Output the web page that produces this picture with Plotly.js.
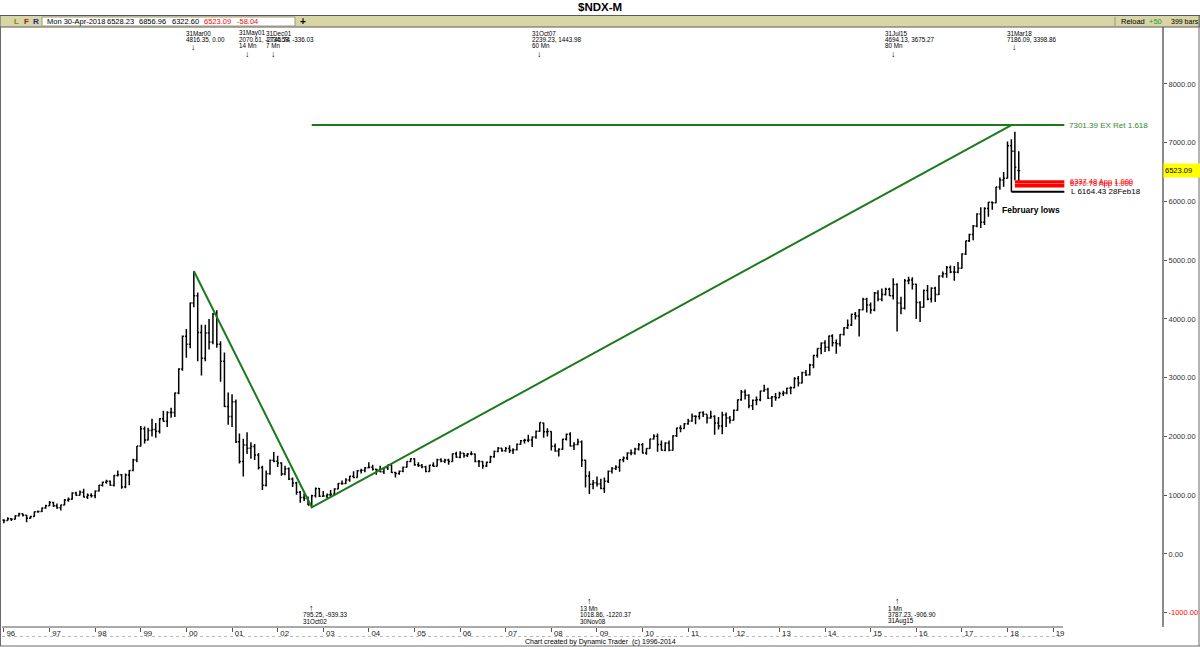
<!DOCTYPE html>
<html><head><meta charset="utf-8">
<script src="https://cdn.plot.ly/plotly-3.0.1.min.js"></script>
<style>html,body{margin:0;padding:0;background:#fff;overflow:hidden}#chart{width:1200px;height:647px}</style>
</head><body><div id="chart"></div>
<script>
// ---------------- DATA ----------------
const months = [
"1996-01","1996-02","1996-03","1996-04","1996-05","1996-06","1996-07","1996-08","1996-09","1996-10","1996-11","1996-12",
"1997-01","1997-02","1997-03","1997-04","1997-05","1997-06","1997-07","1997-08","1997-09","1997-10","1997-11","1997-12",
"1998-01","1998-02","1998-03","1998-04","1998-05","1998-06","1998-07","1998-08","1998-09","1998-10","1998-11","1998-12",
"1999-01","1999-02","1999-03","1999-04","1999-05","1999-06","1999-07","1999-08","1999-09","1999-10","1999-11","1999-12",
"2000-01","2000-02","2000-03","2000-04","2000-05","2000-06","2000-07","2000-08","2000-09","2000-10","2000-11","2000-12",
"2001-01","2001-02","2001-03","2001-04","2001-05","2001-06","2001-07","2001-08","2001-09","2001-10","2001-11","2001-12",
"2002-01","2002-02","2002-03","2002-04","2002-05","2002-06","2002-07","2002-08","2002-09","2002-10","2002-11","2002-12",
"2003-01","2003-02","2003-03","2003-04","2003-05","2003-06","2003-07","2003-08","2003-09","2003-10","2003-11","2003-12",
"2004-01","2004-02","2004-03","2004-04","2004-05","2004-06","2004-07","2004-08","2004-09","2004-10","2004-11","2004-12",
"2005-01","2005-02","2005-03","2005-04","2005-05","2005-06","2005-07","2005-08","2005-09","2005-10","2005-11","2005-12",
"2006-01","2006-02","2006-03","2006-04","2006-05","2006-06","2006-07","2006-08","2006-09","2006-10","2006-11","2006-12",
"2007-01","2007-02","2007-03","2007-04","2007-05","2007-06","2007-07","2007-08","2007-09","2007-10","2007-11","2007-12",
"2008-01","2008-02","2008-03","2008-04","2008-05","2008-06","2008-07","2008-08","2008-09","2008-10","2008-11","2008-12",
"2009-01","2009-02","2009-03","2009-04","2009-05","2009-06","2009-07","2009-08","2009-09","2009-10","2009-11","2009-12",
"2010-01","2010-02","2010-03","2010-04","2010-05","2010-06","2010-07","2010-08","2010-09","2010-10","2010-11","2010-12",
"2011-01","2011-02","2011-03","2011-04","2011-05","2011-06","2011-07","2011-08","2011-09","2011-10","2011-11","2011-12",
"2012-01","2012-02","2012-03","2012-04","2012-05","2012-06","2012-07","2012-08","2012-09","2012-10","2012-11","2012-12",
"2013-01","2013-02","2013-03","2013-04","2013-05","2013-06","2013-07","2013-08","2013-09","2013-10","2013-11","2013-12",
"2014-01","2014-02","2014-03","2014-04","2014-05","2014-06","2014-07","2014-08","2014-09","2014-10","2014-11","2014-12",
"2015-01","2015-02","2015-03","2015-04","2015-05","2015-06","2015-07","2015-08","2015-09","2015-10","2015-11","2015-12",
"2016-01","2016-02","2016-03","2016-04","2016-05","2016-06","2016-07","2016-08","2016-09","2016-10","2016-11","2016-12",
"2017-01","2017-02","2017-03","2017-04","2017-05","2017-06","2017-07","2017-08","2017-09","2017-10","2017-11","2017-12",
"2018-01","2018-02","2018-03","2018-04"];

const openPx = [
577,570,598,590,652,683,660,610,640,718,722,782,
821,878,820,785,832,920,930,1040,1000,1050,970,1000,
990,1070,1170,1220,1240,1170,1337,1350,1140,1345,1420,1600,
1836,2130,1940,2100,2120,2090,2300,2260,2410,2410,2740,3150,
3708,3570,4270,4397,3770,3330,3760,3610,4080,3570,3280,2510,
2341,2590,1910,1573,1855,1800,1830,1683,1470,1169,1365,1596,
1577,1550,1360,1452,1278,1210,1051,963,943,832,989,1116,
984,985,1010,1018,1106,1199,1201,1259,1321,1303,1416,1424,
1468,1475,1442,1438,1401,1467,1517,1387,1368,1406,1478,1574,
1621,1519,1505,1483,1404,1511,1493,1605,1579,1601,1575,1705,
1645,1713,1676,1703,1703,1574,1575,1496,1561,1655,1744,1799,
1757,1796,1762,1772,1869,1929,1934,1941,1993,2091,2228,2079,
2085,1832,1753,1781,1951,2037,1837,1865,1906,1596,1329,1185,
1212,1190,1116,1237,1407,1454,1477,1606,1632,1720,1718,1788,
1860,1719,1795,1957,2004,1865,1765,1889,1765,2011,2143,2134,
2218,2263,2343,2338,2409,2378,2316,2338,2231,2179,2366,2314,
2278,2448,2624,2755,2700,2522,2616,2626,2772,2799,2650,2677,
2661,2731,2738,2819,2828,2987,2910,3087,3052,3218,3378,3498,
3592,3519,3711,3596,3580,3736,3850,3896,4082,4050,4158,4337,
4236,4152,4442,4334,4415,4508,4397,4589,4274,4181,4649,4664,
4593,4280,4201,4483,4341,4523,4418,4731,4771,4875,4801,4795,
4864,5107,5330,5436,5584,5788,5647,5880,5988,5979,6248,6367,
6397,6950,6854,6528.23];

const highPx = [
590,625,610,660,700,690,665,650,725,740,790,840,
900,890,860,840,935,960,1050,1060,1080,1110,1030,1035,
1080,1175,1230,1265,1250,1340,1420,1360,1370,1430,1620,1840,
2180,2170,2150,2300,2230,2310,2440,2430,2490,2750,3160,3720,
3830,4280,4816.35,4450,3900,3900,4000,4100,4150,3620,3430,2750,
2720,2630,2050,1960,2070.61,1900,1870,1720,1500,1420,1610,1734.58,
1670,1560,1500,1470,1300,1230,1070,1030,980,1010,1130,1125,
1070,1030,1090,1120,1210,1250,1290,1330,1410,1430,1450,1480,
1560,1520,1450,1500,1480,1520,1520,1400,1420,1490,1580,1630,
1630,1560,1530,1500,1520,1560,1620,1630,1620,1620,1710,1740,
1750,1720,1720,1750,1710,1600,1580,1570,1670,1760,1820,1810,
1820,1850,1800,1880,1940,1960,2030,2000,2100,2239.23,2232,2140,
2090,1880,1800,1960,2050,2070,1900,1960,1930,1610,1410,1260,
1320,1280,1300,1420,1480,1510,1610,1660,1730,1780,1810,1890,
1890,1800,1960,2040,2050,1930,1900,1930,2020,2150,2190,2230,
2300,2390,2360,2420,2430,2380,2440,2360,2330,2420,2410,2350,
2460,2630,2790,2800,2720,2630,2680,2780,2880,2830,2690,2740,
2760,2780,2830,2850,3010,3030,3100,3130,3240,3390,3500,3600,
3640,3720,3740,3650,3740,3860,3990,4090,4120,4170,4360,4360,
4280,4460,4490,4520,4530,4530,4694.13,4610,4380,4680,4720,4710,
4600,4300,4500,4580,4540,4550,4740,4810,4900,4910,4900,4970,
5120,5330,5450,5600,5800,5900,5900,5990,6000,6250,6410,6500,
7022,7060,7186.09,6856.96];

const lowPx = [
525,565,560,585,640,640,540,600,635,700,715,770,
815,800,770,740,828,890,925,990,995,960,935,960,
950,1065,1150,1195,1160,1150,1320,1110,1120,1170,1410,1560,
1830,1880,1930,2000,1980,2050,2250,2160,2320,2330,2720,3120,
3340,3500,4200,3280,3040,3280,3480,3570,3510,2930,2500,2200,
2160,1890,1540,1320,1700,1620,1600,1440,1090,1150,1350,1560,
1480,1330,1340,1260,1140,1010,870,900,830,795.25,960,970,
980,950,960,1000,1100,1180,1190,1230,1290,1300,1370,1390,
1460,1420,1350,1390,1360,1430,1380,1300,1350,1390,1470,1560,
1500,1480,1460,1390,1400,1480,1490,1560,1550,1520,1570,1640,
1630,1640,1650,1680,1560,1480,1450,1480,1550,1640,1730,1740,
1740,1720,1700,1760,1860,1880,1900,1820,1960,2080,1980,2000,
1760,1740,1660,1770,1930,1830,1770,1850,1480,1130,1018.86,1100,
1150,1100,1040,1210,1370,1430,1400,1560,1600,1680,1690,1760,
1710,1690,1790,1950,1740,1760,1750,1750,1760,1990,2070,2130,
2200,2250,2210,2290,2330,2220,2300,2030,2120,2040,2160,2220,
2270,2440,2610,2630,2480,2450,2530,2600,2760,2640,2500,2610,
2660,2690,2720,2720,2820,2850,2900,3030,3040,3160,3340,3400,
3440,3450,3530,3410,3530,3720,3830,3880,3990,3700,4150,4110,
4090,4130,4300,4300,4400,4390,4330,3787.23,4080,4160,4590,4500,
4000,3950,4190,4320,4280,4290,4410,4700,4700,4780,4650,4780,
4860,5090,5310,5340,5560,5550,5600,5740,5860,5970,6200,6250,
6390,6164.43,6360,6322.60];

const closePx = [
570,598,590,652,683,660,610,640,718,722,782,821,
878,820,785,832,920,930,1040,1000,1050,970,1000,990,
1070,1170,1220,1240,1170,1337,1350,1140,1345,1420,1600,1836,
2130,1940,2100,2120,2090,2300,2260,2410,2410,2740,3150,3708,
3570,4270,4397,3770,3330,3760,3610,4080,3570,3280,2510,2341,
2590,1910,1573,1855,1800,1830,1683,1470,1169,1365,1596,1577,
1550,1360,1452,1278,1210,1051,963,943,832,989,1116,984,
985,1010,1018,1106,1199,1201,1259,1321,1303,1416,1424,1468,
1475,1442,1438,1401,1467,1517,1387,1368,1406,1478,1574,1621,
1519,1505,1483,1404,1511,1493,1605,1579,1601,1575,1705,1645,
1713,1676,1703,1703,1574,1575,1496,1561,1655,1744,1799,1757,
1796,1762,1772,1869,1929,1934,1941,1993,2091,2239,2079,2085,
1832,1753,1781,1951,2037,1837,1865,1906,1596,1329,1185,1212,
1190,1116,1237,1407,1454,1477,1606,1632,1720,1718,1788,1860,
1719,1795,1957,2004,1865,1765,1889,1765,2011,2143,2134,2218,
2263,2343,2338,2409,2378,2316,2338,2231,2179,2366,2314,2278,
2448,2624,2755,2700,2522,2616,2626,2772,2799,2650,2677,2661,
2731,2738,2819,2828,2987,2910,3087,3052,3218,3378,3498,3592,
3519,3711,3596,3580,3736,3850,3896,4082,4050,4158,4337,4236,
4152,4442,4334,4415,4508,4397,4589,4274,4181,4649,4664,4593,
4280,4201,4483,4341,4523,4418,4731,4771,4875,4801,4795,4864,
5107,5330,5436,5584,5788,5647,5880,5988,5979,6248,6367,6397,
6950,6854,6581,6523.09];

// x tick labels (year starts)
const yearTicks = ["1996-01-01","1997-01-01","1998-01-01","1999-01-01","2000-01-01","2001-01-01","2002-01-01","2003-01-01","2004-01-01","2005-01-01","2006-01-01","2007-01-01","2008-01-01","2009-01-01","2010-01-01","2011-01-01","2012-01-01","2013-01-01","2014-01-01","2015-01-01","2016-01-01","2017-01-01","2018-01-01","2019-01-01"];
const yearLabels = ["96","97","98","99","00","01","02","03","04","05","06","07","08","09","10","11","12","13","14","15","16","17","18","19"];
// y tick labels
const priceTicks = [-1000,0,1000,2000,3000,4000,5000,6000,7000,8000];
const priceLabels = ['<span style="color:#ff0000">-1000.00</span>',"0.00","1000.00","2000.00","3000.00","4000.00","5000.00","6000.00","7000.00","8000.00"];

// swing pivots (green lines)
const swingDates = ["2000-03-01","2002-10-01","2018-02-01"];
const swingValues = [4816.35, 795.25, 7301.39];
const targetStart = "2002-10-01", levelsEnd = "2019-04-01";
const targetValue = 7301.39, targetLabel = "7301.39 EX Ret 1.618";
// projection zone (red) and February low (black)
const appStart = "2018-03-01";
const appValues = [6337.48, 6270.78];
const appLabels = ["6337.48 App 1.000", "6270.78 App 1.000"];
const febLowDate = "2018-02-01", febLowValue = 6164.43, febLowLabel = "L 6164.43 28Feb18";
const lastClose = 6523.09;

// pivot annotations
const topDates = ["2000-03-01","2001-05-01","2001-12-01","2007-10-01","2015-07-01","2018-03-01"];
const topTexts = [["31Mar00","4816.35, 0.00"],["31May01","2070.61, -2745.74","14 Mn"],["31Dec01","1734.58, -336.03","7 Mn"],["31Oct07","2239.23, 1443.98","60 Mn"],["31Jul15","4694.13, 3675.27","80 Mn"],["31Mar18","7186.09, 3398.86"]];
const botDates = ["2002-10-01","2008-11-01","2015-08-01"];
const botTexts = [["795.25, -939.33","31Oct02"],["13 Mn","1018.86, -1220.37","30Nov08"],["1 Mn","3787.23, -906.90","31Aug15"]];

// ---------------- LAYOUT HELPERS ----------------
const W = 1200, H = 647;
const PL = 2, PT = 27, PW = 1160, PH = 600;
const fx = p => (p - PL) / PW;
const fy = p => (PT + PH - p) / PH;
const FONT = "Liberation Sans, Arial, DejaVu Sans, sans-serif";

const annotations = [];
function txt(px, py, text, opts) {
  opts = opts || {};
  annotations.push({
    xref: "paper", yref: "paper", x: fx(px), y: fy(py), text: text,
    xanchor: opts.anchor || "left", yanchor: "middle", showarrow: false,
    font: {family: FONT, size: opts.size || 7.5, color: opts.color || "#000"}
  });
}
function dtxt(date, py, text, shift, anchor, size) {
  annotations.push({
    xref: "x", yref: "paper", x: date, y: fy(py), text: text, xshift: shift,
    xanchor: anchor, yanchor: "middle", showarrow: false,
    font: {family: FONT, size: size, color: "#000"}
  });
}

// top pivot labels
topDates.forEach((d, i) => {
  const lines = topTexts[i];
  lines.forEach((t, j) => dtxt(d, 33 + j * 6.5, t, -10, "left", 6.3));
  dtxt(d, 33 + lines.length * 6.5 + 1, "↓", 0, "center", 9);
});
// bottom pivot labels
botDates.forEach((d, i) => {
  const lines = botTexts[i];
  const y0 = 621 - (lines.length - 1) * 6.5;
  lines.forEach((t, j) => dtxt(d, y0 + j * 6.5, t, -11, "left", 6.3));
  dtxt(d, y0 - 7, "↑", 0, "center", 9);
});

// header
txt(600, 7, "<b>$NDX-M</b>", {anchor: "center", size: 11.5});
txt(12, 21.5, "<b>L</b>", {size: 8, color: "#8a7d10"});
txt(22, 21.5, "<b>F</b>", {size: 8, color: "#8b1c1c"});
txt(31, 21.5, "<b>R</b>", {size: 8, color: "#1c2a8b"});
txt(45, 21.5, "Mon 30-Apr-2018", {size: 7.5});
txt(105, 21.5, "6528.23", {size: 7.5});
txt(137, 21.5, "6856.96", {size: 7.5});
txt(170, 21.5, "6322.60", {size: 7.5});
txt(202, 21.5, "6523.09", {size: 7.5, color: "#ff0000"});
txt(235, 21.5, "-58.04", {size: 7.5, color: "#ff0000"});
txt(303, 21.5, "<b>+</b>", {size: 10, anchor: "center"});
txt(1119, 21.5, "Reload", {size: 7.5});
txt(1147, 21.5, "+50", {size: 7.5, color: "#2a9a2a"});
txt(1169, 21.5, "399 bars", {size: 7});
// footer
txt(600, 642, "Chart created by Dynamic Trader  (c) 1996-2014", {anchor: "center", size: 7});
// right side labels
annotations.push({xref: "paper", yref: "y", x: fx(1067), y: targetValue, text: targetLabel, xanchor: "left", yanchor: "middle", showarrow: false, font: {family: FONT, size: 8, color: "#2f8a2f"}});
annotations.push({xref: "paper", yref: "y", x: fx(1068), y: appValues[0], text: appLabels[0], xanchor: "left", yanchor: "middle", showarrow: false, font: {family: FONT, size: 7.5, color: "#ff0000"}});
annotations.push({xref: "paper", yref: "y", x: fx(1068), y: appValues[1] + 40, text: appLabels[1], xanchor: "left", yanchor: "middle", showarrow: false, font: {family: FONT, size: 7.5, color: "#ff0000"}});
annotations.push({xref: "paper", yref: "y", x: fx(1069), y: febLowValue, text: febLowLabel, xanchor: "left", yanchor: "middle", showarrow: false, font: {family: FONT, size: 8, color: "#000"}});
annotations.push({xref: "x", yref: "paper", x: febLowDate, y: fy(210), xshift: 20, text: "<b>February lows</b>", xanchor: "center", yanchor: "middle", showarrow: false, font: {family: FONT, size: 8.5, color: "#000"}});
annotations.push({xref: "paper", yref: "y", x: fx(1163), y: lastClose, text: "6523.09", xanchor: "left", yanchor: "middle", showarrow: false, bgcolor: "#ffff00", width: 35, height: 11, align: "left", font: {family: FONT, size: 7.5, color: "#000"}});

// frame shapes
const shapes = [
  {type: "rect", xref: "paper", yref: "paper", x0: fx(0), x1: fx(1200), y0: fy(27), y1: fy(15.5), fillcolor: "#d8d5a6", line: {color: "#5a5a5a", width: 1}, layer: "above"},
  {type: "rect", xref: "paper", yref: "paper", x0: fx(42), x1: fx(295), y0: fy(26), y1: fy(17), fillcolor: "#ffffff", line: {color: "#9a9a80", width: 1}, layer: "above"},
  {type: "line", xref: "paper", yref: "paper", x0: fx(1115), x1: fx(1115), y0: fy(26), y1: fy(17), line: {color: "#9a9a80", width: 1}},
  {type: "line", xref: "paper", yref: "paper", x0: fx(0.5), x1: fx(0.5), y0: fy(27), y1: fy(646), line: {color: "#6a6a6a", width: 1}},
  {type: "line", xref: "paper", yref: "paper", x0: fx(1199), x1: fx(1199), y0: fy(15.5), y1: fy(646), line: {color: "#6a6a6a", width: 1}},
  {type: "line", xref: "paper", yref: "paper", x0: fx(0), x1: fx(1200), y0: fy(646), y1: fy(646), line: {color: "#6a6a6a", width: 1}},
  {type: "line", xref: "paper", yref: "paper", x0: fx(2), x1: fx(1063), y0: fy(627), y1: fy(627), line: {color: "#555", width: 1}},
  {type: "line", xref: "paper", yref: "paper", x0: fx(2), x1: fx(1063), y0: fy(636.5), y1: fy(636.5), line: {color: "#b8b8b8", width: 1, dash: "dot"}}
];

// ---------------- TRACES ----------------
const traces = [
  {type: "ohlc", x: months, open: openPx, high: highPx, low: lowPx, close: closePx,
   increasing: {line: {color: "#000", width: 1.5}}, decreasing: {line: {color: "#000", width: 1.5}},
   tickwidth: 0.4, hoverinfo: "skip", showlegend: false},
  {type: "scatter", mode: "lines", x: swingDates, y: swingValues, line: {color: "#1c7a1c", width: 2}, hoverinfo: "skip", showlegend: false},
  {type: "scatter", mode: "lines", x: [targetStart, levelsEnd], y: [targetValue, targetValue], line: {color: "#1c7a1c", width: 2}, hoverinfo: "skip", showlegend: false},
  {type: "scatter", mode: "lines", x: [appStart, levelsEnd], y: [appValues[0], appValues[0]], line: {color: "#ff0000", width: 3}, hoverinfo: "skip", showlegend: false},
  {type: "scatter", mode: "lines", x: [appStart, levelsEnd], y: [appValues[1], appValues[1]], line: {color: "#ff0000", width: 4}, hoverinfo: "skip", showlegend: false},
  {type: "scatter", mode: "lines", x: [febLowDate, levelsEnd], y: [febLowValue, febLowValue], line: {color: "#000", width: 2}, hoverinfo: "skip", showlegend: false}
];

const layout = {
  width: W, height: H,
  margin: {l: PL, r: W - PL - PW, t: PT, b: H - PT - PH, pad: 0},
  paper_bgcolor: "#fff", plot_bgcolor: "#fff",
  showlegend: false, hovermode: false,
  font: {family: FONT, color: "#222"},
  xaxis: {
    type: "date", range: ["1995-12-17", "2021-05-22"],
    rangeslider: {visible: false},
    tickmode: "array", tickvals: yearTicks, ticktext: yearLabels,
    ticks: "outside", ticklen: 4, tickcolor: "#555", tickwidth: 1,
    ticklabelshift: 7, ticklabelstandoff: -5,
    tickfont: {family: FONT, size: 7.8, color: "#222"},
    showgrid: false, zeroline: false, showline: false
  },
  yaxis: {
    side: "right", range: [-1243, 8970],
    tickmode: "array", tickvals: priceTicks, ticktext: priceLabels,
    ticks: "outside", ticklen: 3, tickcolor: "#555",
    tickfont: {family: FONT, size: 7.5, color: "#333"},
    showgrid: false, zeroline: false,
    showline: true, linecolor: "#8a8a8a", linewidth: 2
  },
  shapes: shapes,
  annotations: annotations
};

Plotly.newPlot("chart", traces, layout, {staticPlot: true, displayModeBar: false});
</script>
</body></html>
